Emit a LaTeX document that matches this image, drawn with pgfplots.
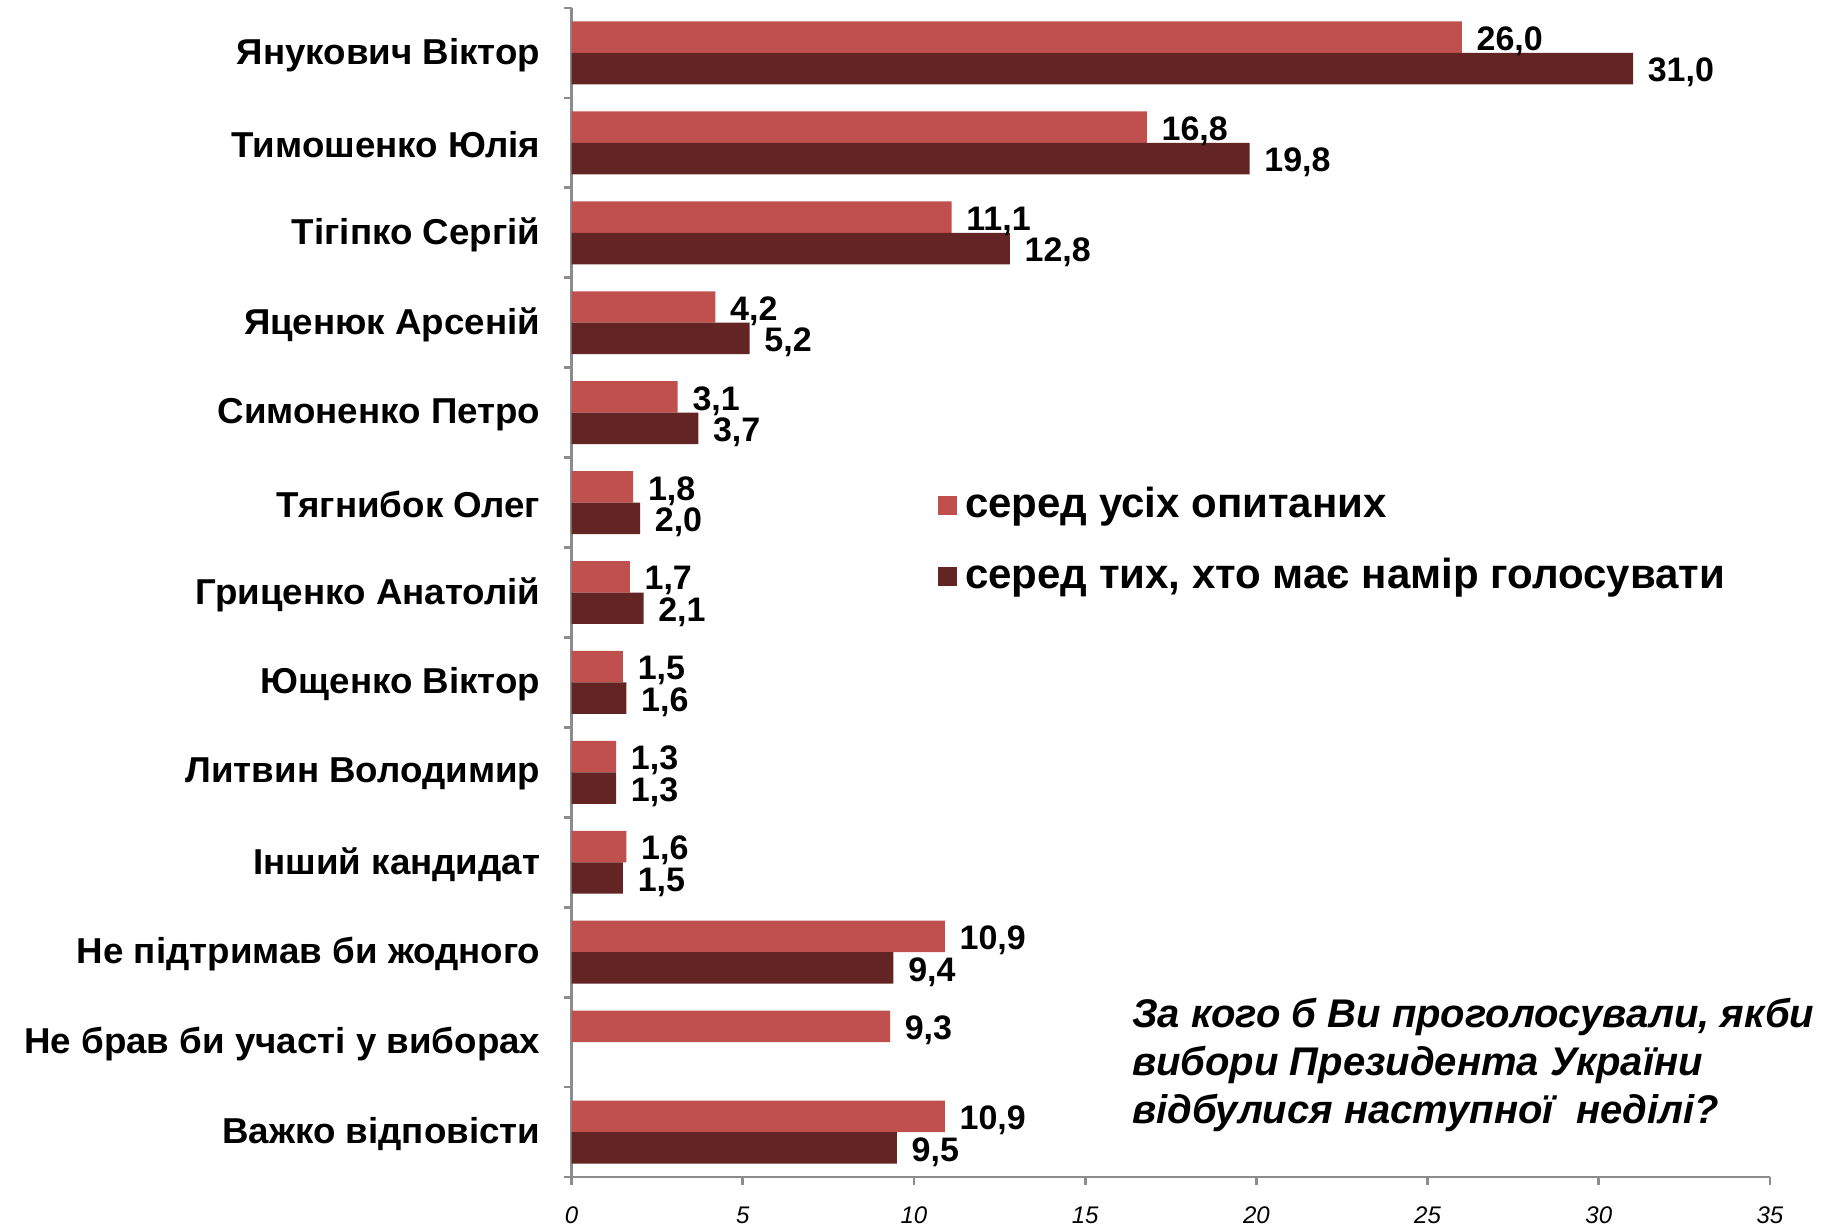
\documentclass[border=0pt]{standalone}
\usepackage{fontspec}
\setmainfont{Liberation Sans}
\newfontfamily\labelfont[FakeStretch=1.02]{Liberation Sans}
\usepackage{pgfplots}
\pgfplotsset{compat=1.18}
\definecolor{lightred}{HTML}{C0504D}
\definecolor{darkred}{HTML}{632523}
\definecolor{axgray}{HTML}{8C8C8C}
\begin{document}
\begin{tikzpicture}
\useasboundingbox (0,0) rectangle (458pt,306pt);
\begin{axis}[
  at={(142.9pt,11.75pt)}, anchor=south west,
  scale only axis, width=299.6pt, height=292.25pt,
  clip=false,
  bar width=0.35,
  xmin=0, xmax=35, ymin=-0.5, ymax=12.5,
  axis x line*=bottom, axis y line*=left,
  axis line style={draw=axgray, line width=0.7pt, -},
  xtick={0,5,...,35},
  ytick={-0.5,0.5,...,12.5},
  y tick label as interval,
  yticklabels={Важко відповісти, Не брав би участі у виборах, Не підтримав би жодного\ , Інший кандидат, Литвин Володимир, Ющенко Віктор, Гриценко Анатолій, Тягнибок Олег, Симоненко Петро, Яценюк Арсеній, Тігіпко Сергій, Тимошенко Юлія, Янукович Віктор},
  tick align=outside,
  major tick length=2pt,
  tick style={draw=axgray, line width=0.7pt},
  /pgf/number format/assume math mode=true,
  xticklabel style={font=\itshape\fontsize{6}{7}\selectfont, inner sep=0pt, yshift=-5.2pt},
  yticklabel style={font=\labelfont\bfseries\fontsize{9}{11}\selectfont, xshift=-2.3pt, yshift=-0.5pt},
  point meta=x,
  nodes near coords={\pgfmathprintnumber[fixed,fixed zerofill,precision=1,use comma,assume math mode=true]{\pgfplotspointmeta}},
  every node near coord/.append style={font=\bfseries\fontsize{8.5}{9}\selectfont, anchor=west, inner sep=0pt, xshift=3.5pt, yshift=-1pt, text=black},
  legend style={draw=none, fill=none, at={(rel axis cs:0.305,0.544)}, anchor=west, inner sep=0pt, font=\bfseries\fontsize{10.5}{12}\selectfont, row sep=4.6pt},
  legend cell align=left,
]
\addplot[xbar, bar shift=0, fill=lightred, draw=none,
  legend image code/.code={\fill[lightred] (0pt,-2.4pt) rectangle (4.8pt,2.4pt);}]
  coordinates {(26.0,12.175) (16.8,11.175) (11.1,10.175) (4.2,9.175) (3.1,8.175) (1.8,7.175) (1.7,6.175) (1.5,5.175) (1.3,4.175) (1.6,3.175) (10.9,2.175) (9.3,1.175) (10.9,0.175)};
\addlegendentry{серед усіх опитаних}
\addplot[xbar, bar shift=0, fill=darkred, draw=none,
  legend image code/.code={\fill[darkred] (0pt,-2.4pt) rectangle (4.8pt,2.4pt);}]
  coordinates {(31.0,11.825) (19.8,10.825) (12.8,9.825) (5.2,8.825) (3.7,7.825) (2.0,6.825) (2.1,5.825) (1.6,4.825) (1.3,3.825) (1.5,2.825) (9.4,1.825) (9.5,-0.175)};
\addlegendentry{серед тих, хто має намір голосувати}
\node[anchor=north west, align=left, inner sep=0pt, font=\bfseries\itshape\fontsize{10}{12}\selectfont]
  at (rel axis cs:0.467,0.154) {За кого б Ви проголосували, якби\\вибори Президента України\\відбулися наступної\ \ неділі?};
\end{axis}
\end{tikzpicture}
\end{document}
